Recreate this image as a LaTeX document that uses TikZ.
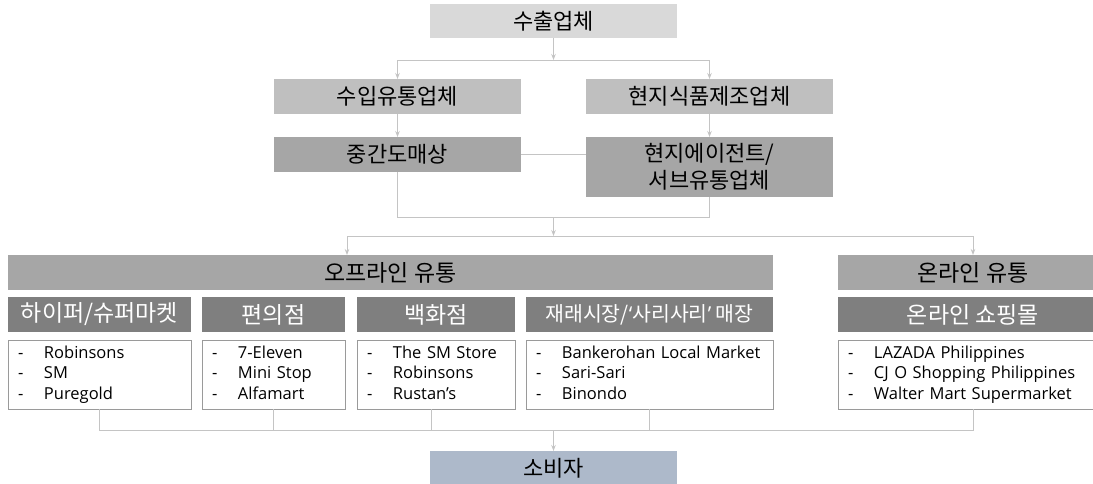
\documentclass[tikz,border=0pt]{standalone}
\usepackage{fontspec}
\setmainfont{Noto Sans CJK KR}
\newfontfamily\latinf{Open Sans}
\usetikzlibrary{arrows.meta}
\definecolor{c1}{HTML}{D9D9D9}
\definecolor{c2}{HTML}{BFBFBF}
\definecolor{c3}{HTML}{A6A6A6}
\definecolor{c4}{HTML}{7F7F7F}
\definecolor{c5}{HTML}{ADB9CA}
\definecolor{conn}{HTML}{C4C4C4}
\definecolor{lbord}{HTML}{9A9A9A}
\begin{document}
\begin{tikzpicture}[x=1pt,y=-1pt,
  box/.style={rectangle, inner sep=0pt, outer sep=0pt, align=center,
    font=\fontsize{22}{27}\selectfont},
  big/.style={font=\fontsize{23}{27}\selectfont},
  hdr/.style={box, big, fill=c4, text=white},
  listbox/.style={rectangle, draw=lbord, line width=0.8pt, fill=white,
    inner xsep=10pt, inner ysep=0pt, outer sep=0pt, minimum height=69pt, align=left,
    font=\latinf\fontsize{16.5}{20.5}\selectfont},
  line/.style={draw=conn, line width=0.9pt},
  arr/.style={line, -{Stealth[length=6pt,width=4.5pt]}}]
\useasboundingbox (0,0) rectangle (1093,484);
\newcommand{\lst}[3]{\begin{tabular}{@{}p{26pt}@{}l@{}}-&#1\\-&#2\\-&#3\end{tabular}}
% top part
\node[box, fill=c1, minimum width=247pt, minimum height=34pt] (top) at (553.5,21) {수출업체};
\node[box, fill=c2, minimum width=247pt, minimum height=35pt] (imp) at (397.5,96.5) {수입유통업체};
\node[box, fill=c2, minimum width=247pt, minimum height=35pt] (loc) at (709.5,96.5) {현지식품제조업체};
\node[box, fill=c3, minimum width=247pt, minimum height=35pt] (mid) at (397.5,154.5) {중간도매상};
\node[box, fill=c3, minimum width=247pt, minimum height=60pt] (agent) at (709.5,167) {현지에이전트/\\서브유통업체};
% channels
\node[box, big, fill=c3, minimum width=765pt, minimum height=35pt] (off) at (390.5,272.5) {오프라인 유통};
\node[box, big, fill=c3, minimum width=270pt, minimum height=35pt] (on) at (973,272.5) {온라인 유통};
\node[hdr, minimum width=183pt, minimum height=35pt] (s1) at (99.5,314.5) {하이퍼/슈퍼마켓};
\node[hdr, minimum width=143pt, minimum height=35pt] (s2) at (273.5,314.5) {편의점};
\node[hdr, minimum width=158pt, minimum height=35pt] (s3) at (436,314.5) {백화점};
\node[hdr, minimum width=247pt, minimum height=35pt, font=\fontsize{20.5}{24}\selectfont] (s4) at (649.5,314.5) {재래시장/{\latinf‘}사리사리{\latinf’} 매장};
\node[hdr, minimum width=270pt, minimum height=35pt] (s5) at (973,314.5) {온라인 쇼핑몰};
% lists
\node[listbox, text width=163pt] (l1) at (99.5,374.5) {\lst{Robinsons}{SM}{Puregold}};
\node[listbox, text width=123pt] (l2) at (273.5,374.5) {\lst{7-Eleven}{Mini Stop}{Alfamart}};
\node[listbox, text width=138pt] (l3) at (436,374.5) {\lst{The SM Store}{Robinsons}{Rustan’s}};
\node[listbox, text width=227pt] (l4) at (649.5,374.5) {\lst{Bankerohan Local Market}{Sari-Sari}{Binondo}};
\node[listbox, text width=250pt] (l5) at (973,374.5) {\lst{LAZADA Philippines}{CJ O Shopping Philippines}{Walter Mart Supermarket}};
% consumer
\node[box, fill=c5, minimum width=247pt, minimum height=35pt] (cons) at (553.5,468.5) {소비자};
% junctions
\coordinate (j1) at (553.5,60);
\coordinate (j2) at (553.5,217);
\coordinate (j3) at (553.5,236);
\coordinate (j3l) at (347,236);
\coordinate (j4) at (553.5,430);
\coordinate (b3) at (431,409);
% connectors
\draw[arr] (top.south) -- (j1);
\draw[arr] (j1) -| (imp.north);
\draw[arr] (j1) -| (loc.north);
\draw[arr] (imp.south) -- (mid.north);
\draw[arr] (loc.south) -- (agent.north);
\draw[line] (mid.east) -- (mid.east -| agent.west);
\draw[line] (mid.south) |- (j2);
\draw[line] (agent.south) |- (j2);
\draw[arr] (j2) -- (j3);
\draw[line] (j3) -- (j3l);
\draw[arr] (j3l) -- (j3l |- off.north);
\draw[arr] (j3) -| (on.north);
\draw[line] (l1.south) |- (j4);
\draw[line] (l2.south) |- (j4);
\draw[line] (b3) |- (j4);
\draw[line] (l4.south) |- (j4);
\draw[line] (l5.south) |- (j4);
\draw[arr] (j4) -- (cons.north);
\end{tikzpicture}
\end{document}
